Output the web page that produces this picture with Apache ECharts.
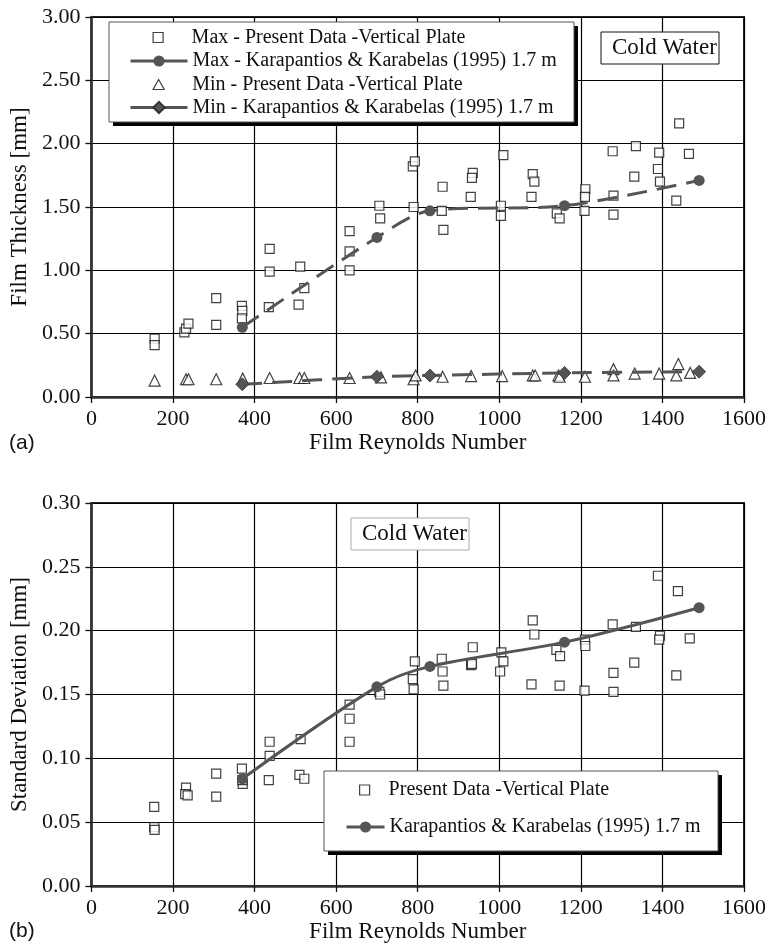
<!DOCTYPE html>
<html>
<head>
<meta charset="utf-8">
<script src="https://cdn.jsdelivr.net/npm/echarts@6/dist/echarts.min.js"></script>
<style>
  html, body { margin: 0; padding: 0; background: #fff; }
  #chart { width: 770px; height: 948px; }
</style>
</head>
<body>
<div id="chart"></div>
<script>
// ---- Data: Film Reynolds number vs. measured quantities ----
const xTicks = [0, 200, 400, 600, 800, 1000, 1200, 1400, 1600];

// (a) maximum film thickness, present data [Re, mm]
const maxPresent = [
  [155, 0.46], [155, 0.41], [228, 0.51], [232, 0.54], [238, 0.58],
  [306, 0.78], [306, 0.57], [369, 0.72], [370, 0.68], [369, 0.62],
  [437, 1.17], [437, 0.99], [435, 0.71], [512, 1.03], [508, 0.73], [522, 0.86],
  [633, 1.31], [633, 1.15], [633, 1.00], [706, 1.51], [708, 1.41],
  [788, 1.82], [793, 1.86], [790, 1.50], [861, 1.66], [859, 1.47], [863, 1.32],
  [935, 1.77], [933, 1.73], [930, 1.58], [1010, 1.91], [1004, 1.51], [1004, 1.43],
  [1082, 1.76], [1086, 1.70], [1079, 1.58], [1141, 1.45], [1148, 1.41],
  [1211, 1.64], [1210, 1.58], [1209, 1.47], [1278, 1.94], [1280, 1.59], [1280, 1.44],
  [1335, 1.98], [1331, 1.74], [1392, 1.93], [1389, 1.80], [1394, 1.70],
  [1434, 1.55], [1441, 2.16], [1465, 1.92]
];

// (a) minimum film thickness, present data [Re, mm]
const minPresent = [
  [155, 0.13], [232, 0.14], [238, 0.14], [306, 0.14], [371, 0.145],
  [437, 0.15], [510, 0.15], [522, 0.15], [633, 0.15], [710, 0.155],
  [790, 0.14], [795, 0.17], [861, 0.16], [931, 0.165], [1007, 0.165],
  [1082, 0.17], [1088, 0.17], [1145, 0.17], [1148, 0.16], [1210, 0.16],
  [1280, 0.22], [1280, 0.17], [1332, 0.185], [1392, 0.185],
  [1439, 0.26], [1434, 0.17], [1468, 0.19]
];

// Karapantios & Karabelas (1995), 1.7 m
const kkRe = [370, 700, 830, 1160, 1490];
const kkMax = [0.55, 1.26, 1.47, 1.51, 1.71];
const kkMin = [0.10, 0.16, 0.17, 0.19, 0.20];
const kkStd = [0.084, 0.156, 0.172, 0.191, 0.218];

// (b) standard deviation, present data [Re, mm]
const stdPresent = [
  [154, 0.062], [154, 0.046], [155, 0.044], [232, 0.077], [230, 0.072], [236, 0.071],
  [306, 0.088], [306, 0.070], [369, 0.092], [371, 0.080], [370, 0.083],
  [437, 0.113], [437, 0.102], [435, 0.083], [510, 0.087], [522, 0.084], [513, 0.115],
  [633, 0.142], [633, 0.131], [633, 0.113], [706, 0.152], [708, 0.150],
  [793, 0.176], [788, 0.162], [790, 0.154], [859, 0.178], [861, 0.168], [863, 0.157],
  [935, 0.187], [931, 0.173], [933, 0.174], [1005, 0.183], [1010, 0.176], [1002, 0.168],
  [1082, 0.208], [1086, 0.197], [1079, 0.158], [1140, 0.185], [1149, 0.180], [1148, 0.157],
  [1210, 0.193], [1211, 0.188], [1209, 0.153], [1278, 0.205], [1280, 0.167], [1280, 0.152],
  [1335, 0.203], [1331, 0.175], [1389, 0.243], [1394, 0.196], [1392, 0.193],
  [1438, 0.231], [1434, 0.165], [1467, 0.194]
];

const names = {
  maxP: 'Max - Present Data -Vertical Plate',
  maxK: 'Max - Karapantios & Karabelas (1995) 1.7 m',
  minP: 'Min - Present Data -Vertical Plate',
  minK: 'Min - Karapantios & Karabelas (1995) 1.7 m',
  stdP: 'Present Data -Vertical Plate',
  stdK: 'Karapantios & Karabelas (1995) 1.7 m'
};

// ---- Styling ----
const SERIF = '"Liberation Serif", "Times New Roman", serif';
const SANS = '"Liberation Sans", Arial, sans-serif';
const GREY = '#555555';

const pair = (xs, ys) => xs.map((x, i) => [x, ys[i]]);

function xAxisFor(gridIndex) {
  return {
    type: 'value', gridIndex, min: xTicks[0], max: xTicks[xTicks.length - 1],
    interval: xTicks[1] - xTicks[0],
    name: 'Film Reynolds Number', nameLocation: 'middle', nameGap: 34,
    nameTextStyle: { fontFamily: SERIF, fontSize: 23, color: '#111' },
    axisLine: { show: true, onZero: false, lineStyle: { color: '#333', width: 2.5 } },
    axisTick: { show: true, inside: false, length: 6, lineStyle: { color: '#111', width: 1.3 } },
    axisLabel: { fontFamily: SERIF, fontSize: 22, color: '#111', margin: 11,
                 formatter: v => String(v) },
    splitLine: { show: true, lineStyle: { color: '#000', width: 1.2 } }
  };
}
function yAxisFor(gridIndex, name, max, interval) {
  return {
    type: 'value', gridIndex, min: 0, max, interval,
    name, nameLocation: 'middle', nameGap: 54,
    nameTextStyle: { fontFamily: SERIF, fontSize: 23, color: '#111' },
    axisLine: { show: true, onZero: false, lineStyle: { color: '#333', width: 2.5 } },
    axisTick: { show: true, inside: false, length: 6, lineStyle: { color: '#111', width: 1.3 } },
    axisLabel: { fontFamily: SERIF, fontSize: 22, color: '#111', margin: 11,
                 formatter: v => v.toFixed(2) },
    splitLine: { show: true, lineStyle: { color: '#000', width: 1.2 } }
  };
}

const openSquare = { color: '#fff', borderColor: '#111', borderWidth: 1.2 };
const legendText = { fontFamily: SERIF, fontSize: 20, color: '#111', lineHeight: 20 };
const squareIcon = 'path://M0,0L10,0L10,10L0,10Z';
const triangleIcon = 'path://M5,0L10,9L0,9Z';

// One legend per entry so each row can carry its own icon size;
// rows with a bare symbol are offset so their text lines up with the line rows.
function legendItem(name, left, centerY, w, h, icon) {
  const l = {
    data: [name], orient: 'vertical', left, top: centerY - 10,
    padding: 0, itemGap: 0, itemWidth: w, itemHeight: h,
    textStyle: legendText, selectedMode: false, z: 10,
    lineStyle: { type: 'solid', width: 3 }
  };
  if (icon) {
    l.icon = icon;
    l.itemStyle = openSquare;
    l.left = left + (w - h) / 2;
  }
  return l;
}

function box(x, y, w, h, stroke, shadow) {
  const items = [];
  if (shadow) {
    items.push({ type: 'rect', z: 8, shape: { x: x + 4, y: y + 4, width: w, height: h },
                 style: { fill: '#000' } });
  }
  items.push({ type: 'rect', z: 9, shape: { x, y, width: w, height: h },
               style: { fill: '#fff', stroke, lineWidth: 1 } });
  return items;
}

const chart = echarts.init(document.getElementById('chart'), null, { renderer: 'canvas' });

const option = {
  animation: false,
  backgroundColor: '#fff',
  grid: [
    { left: 91, top: 17, width: 653, height: 380, show: true, borderColor: '#222', borderWidth: 2, backgroundColor: 'transparent' },
    { left: 91, top: 503, width: 653, height: 383, show: true, borderColor: '#222', borderWidth: 2, backgroundColor: 'transparent' }
  ],
  xAxis: [xAxisFor(0), xAxisFor(1)],
  yAxis: [
    yAxisFor(0, 'Film Thickness [mm]', 3, 0.5),
    yAxisFor(1, 'Standard Deviation [mm]', 0.3, 0.05)
  ],
  legend: [
    legendItem(names.maxP, 129, 37.5, 57, 10, squareIcon),
    legendItem(names.maxK, 129, 61, 57, 14),
    legendItem(names.minP, 129, 84.5, 57, 10, triangleIcon),
    legendItem(names.minK, 129, 107.5, 57, 14),
    legendItem(names.stdP, 345, 790, 38, 10, squareIcon),
    legendItem(names.stdK, 345, 827, 38, 14)
  ],
  graphic: [
    ...box(109, 22, 465, 100, '#555', true),
    ...box(324, 771, 394, 80, '#555', true),
    ...box(601, 32, 118, 32, '#111', false),
    ...box(351, 518, 118, 32, '#aaa', false),
    { type: 'text', z: 10, left: 612, top: 36,
      style: { text: 'Cold Water', font: '23px ' + SERIF, fill: '#111' } },
    { type: 'text', z: 10, left: 362, top: 522,
      style: { text: 'Cold Water', font: '23px ' + SERIF, fill: '#111' } },
    { type: 'text', z: 10, left: 9, top: 433,
      style: { text: '(a)', font: '21px ' + SANS, fill: '#111' } },
    { type: 'text', z: 10, left: 9, top: 921,
      style: { text: '(b)', font: '21px ' + SANS, fill: '#111' } }
  ],
  series: [
    { name: names.maxP, type: 'scatter', xAxisIndex: 0, yAxisIndex: 0,
      symbol: 'rect', symbolSize: 9, itemStyle: openSquare, data: maxPresent, z: 3 },
    { name: names.minP, type: 'scatter', xAxisIndex: 0, yAxisIndex: 0,
      symbol: 'triangle', symbolSize: 11, itemStyle: openSquare, data: minPresent, z: 3 },
    { name: names.maxK, type: 'line', xAxisIndex: 0, yAxisIndex: 0, smooth: 0.3,
      symbol: 'circle', symbolSize: 11, showAllSymbol: true,
      itemStyle: { color: GREY }, lineStyle: { color: GREY, width: 3, type: [20, 10] },
      data: pair(kkRe, kkMax), z: 4 },
    { name: names.minK, type: 'line', xAxisIndex: 0, yAxisIndex: 0, smooth: 0.3,
      symbol: 'diamond', symbolSize: 13, showAllSymbol: true,
      itemStyle: { color: GREY, borderColor: '#333', borderWidth: 0.8 },
      lineStyle: { color: GREY, width: 3, type: [20, 10] },
      data: pair(kkRe, kkMin), z: 4 },
    { name: names.stdP, type: 'scatter', xAxisIndex: 1, yAxisIndex: 1,
      symbol: 'rect', symbolSize: 9, itemStyle: openSquare, data: stdPresent, z: 3 },
    { name: names.stdK, type: 'line', xAxisIndex: 1, yAxisIndex: 1, smooth: 0.3,
      symbol: 'circle', symbolSize: 11, showAllSymbol: true,
      itemStyle: { color: GREY }, lineStyle: { color: GREY, width: 3 },
      data: pair(kkRe, kkStd), z: 4 }
  ]
};

chart.setOption(option);
</script>
</body>
</html>
